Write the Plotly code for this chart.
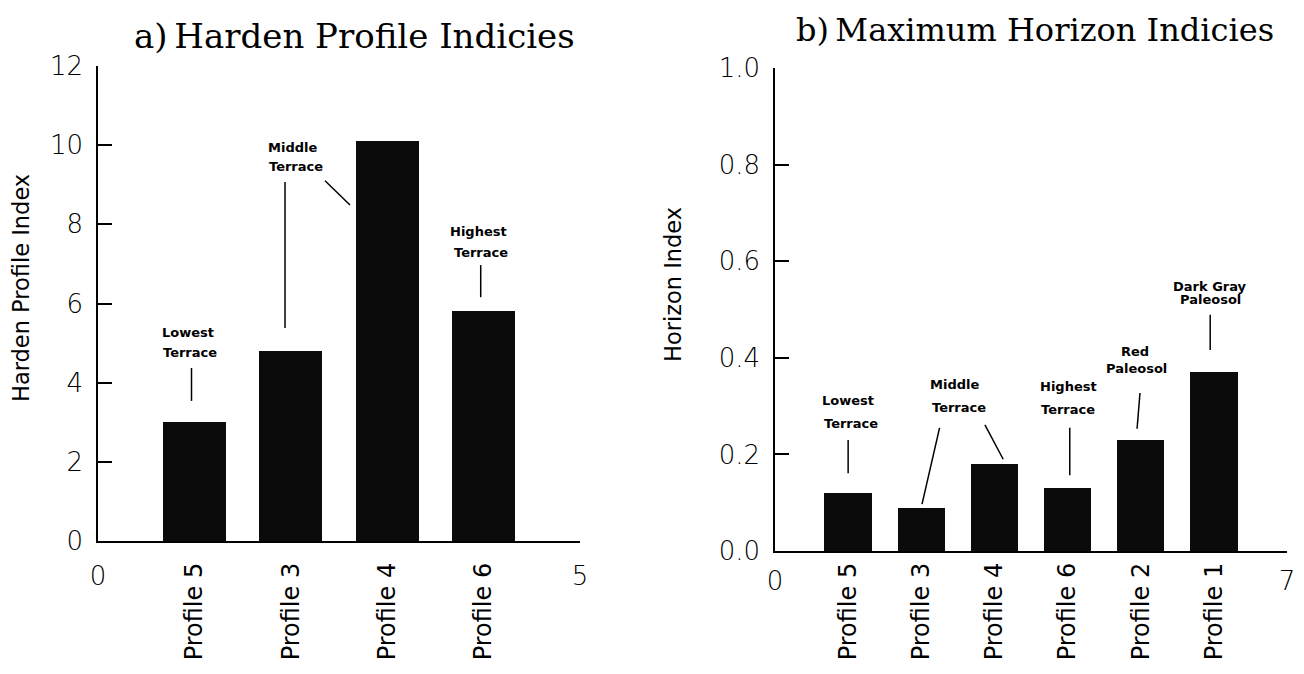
import plotly.graph_objects as go

# ---------------- data ----------------
harden_profiles = ["Profile 5", "Profile 3", "Profile 4", "Profile 6"]
harden_values = [3.0, 4.8, 10.1, 5.8]
harden_yticks = [0, 2, 4, 6, 8, 10, 12]
harden_xends = [0, 5]

horizon_profiles = ["Profile 5", "Profile 3", "Profile 4", "Profile 6", "Profile 2", "Profile 1"]
horizon_values = [0.12, 0.09, 0.18, 0.13, 0.23, 0.37]
horizon_yticks = [0.0, 0.2, 0.4, 0.6, 0.8, 1.0]
horizon_xends = [0, 7]

title_a = "a)\u2009Harden Profile Indicies"
title_b = "b)\u2009Maximum Horizon Indicies"
ytitle_a = "Harden Profile Index"
ytitle_b = "Horizon Index"

# annotation labels (text, x, y) in data units of each panel
labels_a = [("Lowest", 0.93, 5.26), ("Terrace", 0.95, 4.75),
            ("Middle", 2.02, 9.95), ("Terrace", 2.05, 9.45),
            ("Highest", 3.95, 7.83), ("Terrace", 3.97, 7.30)]
leaders_a = [(0.97, 4.37, 0.97, 3.54),
             (1.94, 9.07, 1.94, 5.38),
             (2.355, 9.10, 2.614, 8.49),
             (3.97, 6.97, 3.97, 6.16)]
labels_b = [("Lowest", 1.00, 0.311), ("Terrace", 1.04, 0.263),
            ("Middle", 2.455, 0.344), ("Terrace", 2.51, 0.298),
            ("Highest", 4.006, 0.340), ("Terrace", 4.006, 0.294),
            ("Red", 4.92, 0.414), ("Paleosol", 4.94, 0.377),
            ("Dark Gray", 5.95, 0.547), ("Paleosol", 5.96, 0.520)]
leaders_b = [(1.0, 0.230, 1.0, 0.161),
             (2.25, 0.255, 2.01, 0.097),
             (2.87, 0.261, 3.12, 0.190),
             (4.03, 0.255, 4.03, 0.157),
             (4.99, 0.327, 4.95, 0.253),
             (5.95, 0.489, 5.95, 0.416)]

# ---------------- figure ----------------
BAR = "#0b0b0b"
NUMFONT = dict(family="DejaVu Sans", size=26, color="black", weight=200)
CATFONT = dict(family="DejaVu Sans", size=24, color="black")
LBLFONT = dict(family="DejaVu Sans", size=13, color="black", weight="bold")
TITLEFONT = dict(family="DejaVu Serif", size=34, color="black")
TITLEFONT_B = dict(family="DejaVu Serif", size=32, color="black")
YTFONT = dict(family="DejaVu Sans", size=22.5, color="black")

pos_a = list(range(1, len(harden_values) + 1))
pos_b = list(range(1, len(horizon_values) + 1))

fig = go.Figure()
fig.add_trace(go.Bar(x=pos_a, y=harden_values, xaxis="x", yaxis="y", width=0.65,
                     marker=dict(color=BAR, line=dict(width=0)), showlegend=False))
fig.add_trace(go.Scatter(x=pos_a, y=harden_values, xaxis="x3", yaxis="y", mode="markers",
                         marker=dict(opacity=0), hoverinfo="skip", showlegend=False))
fig.add_trace(go.Bar(x=pos_b, y=horizon_values, xaxis="x2", yaxis="y2", width=0.65,
                     marker=dict(color=BAR, line=dict(width=0)), showlegend=False))
fig.add_trace(go.Scatter(x=pos_b, y=horizon_values, xaxis="x4", yaxis="y2", mode="markers",
                         marker=dict(opacity=0), hoverinfo="skip", showlegend=False))

# page has an 8px body margin: size the figure so the page fits the window
OFF = 8
W, H = 1304 - 2 * OFF, 674 - 2 * OFF


def px(v):
    return (v - OFF) / W


def py(v):
    return 1 - (v - OFF) / H


dom_xa = [px(98), px(580)]
dom_xb = [px(775), px(1287)]
dom_ya = [py(541), py(66)]
dom_yb = [py(551), py(68)]

axis_common = dict(showgrid=False, zeroline=False, showline=True, linecolor="black",
                   linewidth=1.5, ticks="inside", tickcolor="black", tickwidth=1.5,
                   ticklen=14, tickfont=NUMFONT, automargin=False)
cat_common = dict(showgrid=False, zeroline=False, showline=False, ticks="",
                  tickangle=-90, tickfont=CATFONT, automargin=False)

fig.update_layout(
    width=W, height=H, margin=dict(l=0, r=0, t=0, b=0, pad=0, autoexpand=False),
    paper_bgcolor="white", plot_bgcolor="white", bargap=0,
    xaxis=dict(domain=dom_xa, range=[harden_xends[0], harden_xends[1]], anchor="y",
               tickvals=harden_xends, ticktext=[str(v) for v in harden_xends],
               ticklabelstandoff=11, **axis_common),
    xaxis3=dict(overlaying="x", anchor="y", range=[harden_xends[0], harden_xends[1]],
                tickvals=pos_a, ticktext=harden_profiles, ticklabelstandoff=16, **cat_common),
    yaxis=dict(domain=dom_ya, range=[0, 12], anchor="x", tickvals=harden_yticks,
               ticktext=[str(v) for v in harden_yticks], ticklabelstandoff=8, **axis_common),
    xaxis2=dict(domain=dom_xb, range=[horizon_xends[0], horizon_xends[1]], anchor="y2",
                tickvals=horizon_xends, ticktext=[str(v) for v in horizon_xends],
                ticklabelstandoff=6, **axis_common),
    xaxis4=dict(overlaying="x2", anchor="y2", range=[horizon_xends[0], horizon_xends[1]],
                tickvals=pos_b, ticktext=horizon_profiles, ticklabelstandoff=6, **cat_common),
    yaxis2=dict(domain=dom_yb, range=[0, 1.0], anchor="x2", tickvals=horizon_yticks,
                ticktext=[f"{v:.1f}" for v in horizon_yticks], ticklabelstandoff=8, **axis_common),
)

annotations = []
for text, x, y in labels_a:
    annotations.append(dict(text=text, x=x, y=y, xref="x", yref="y", showarrow=False,
                            font=LBLFONT, xanchor="center", yanchor="middle"))
for text, x, y in labels_b:
    annotations.append(dict(text=text, x=x, y=y, xref="x2", yref="y2", showarrow=False,
                            font=LBLFONT, xanchor="center", yanchor="middle"))
annotations += [
    dict(text=title_a, x=px(354), y=py(36), xref="paper", yref="paper", showarrow=False,
         font=TITLEFONT, xanchor="center", yanchor="middle"),
    dict(text=title_b, x=px(1035), y=py(30), xref="paper", yref="paper", showarrow=False,
         font=TITLEFONT_B, xanchor="center", yanchor="middle"),
    dict(text=ytitle_a, x=px(21), y=py(288), xref="paper", yref="paper", showarrow=False,
         font=YTFONT, textangle=-90, xanchor="center", yanchor="middle"),
    dict(text=ytitle_b, x=px(673), y=py(285), xref="paper", yref="paper", showarrow=False,
         font=YTFONT, textangle=-90, xanchor="center", yanchor="middle"),
]
fig.update_layout(annotations=annotations)

shapes = []
for x0, y0, x1, y1 in leaders_a:
    shapes.append(dict(type="line", xref="x", yref="y", x0=x0, y0=y0, x1=x1, y1=y1,
                       line=dict(color="black", width=1.5)))
for x0, y0, x1, y1 in leaders_b:
    shapes.append(dict(type="line", xref="x2", yref="y2", x0=x0, y0=y0, x1=x1, y1=y1,
                       line=dict(color="black", width=1.5)))
fig.update_layout(shapes=shapes)

fig.write_html("out.html")
